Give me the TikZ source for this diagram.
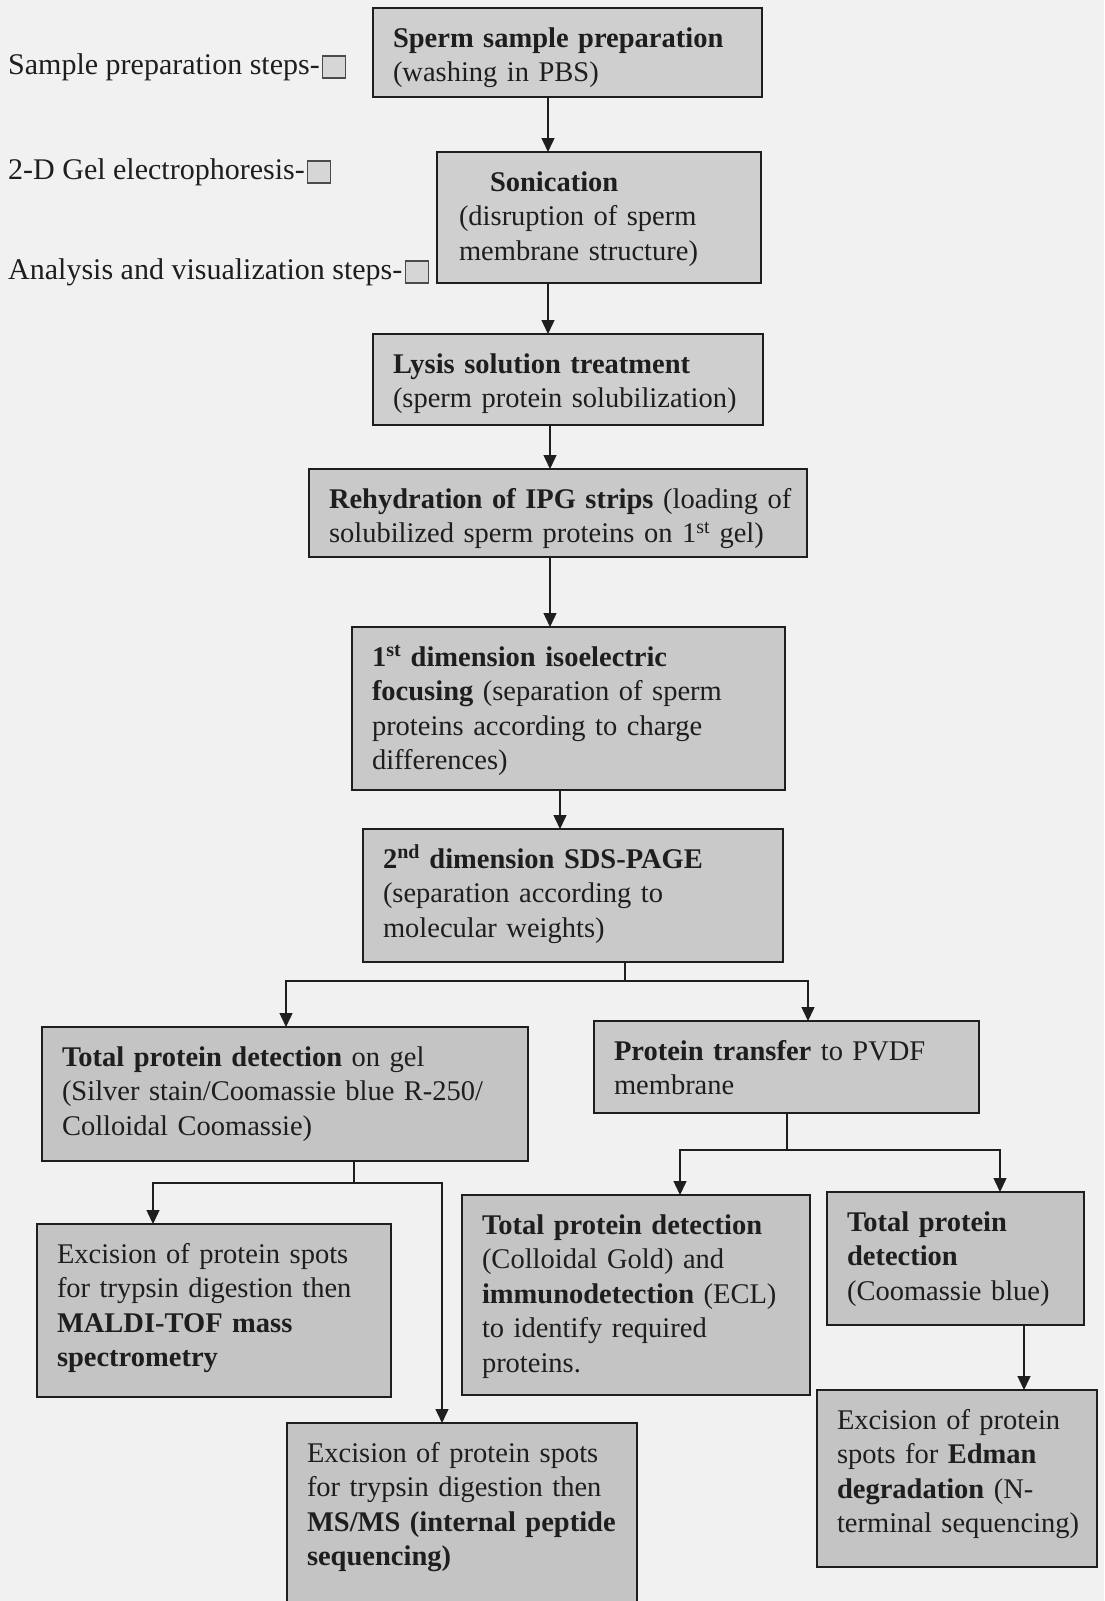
\documentclass[tikz,border=0pt]{standalone}
\usepackage{fontspec}
\setmainfont{Liberation Serif}
\usetikzlibrary{arrows.meta,positioning}
\definecolor{bg}{HTML}{F1F1F1}
\definecolor{fillA}{HTML}{CFCFCF}
\definecolor{fillB}{HTML}{C9C9C9}
\definecolor{fillC}{HTML}{C4C4C4}
\definecolor{legfill}{HTML}{D6D6D6}
\definecolor{ink}{HTML}{1E1E1E}
\newcommand\tx[1]{\begin{tabular}[t]{@{}l@{}}#1\end{tabular}}
\begin{document}
\begin{tikzpicture}[x=1pt,y=-1pt,
  every node/.style={text=ink},
  box/.style={draw=ink, line width=1.7pt, anchor=north west, inner xsep=20pt,
    inner ysep=0pt, outer sep=0pt, align=left, text height=39pt,
    font=\fontsize{28.5}{34.5}\selectfont},
  legtext/.style={anchor=west, inner sep=0pt, font=\fontsize{30}{34}\selectfont},
  legsq/.style={draw=ink!80, line width=1.2pt, fill=legfill, minimum width=23pt,
    minimum height=22pt, inner sep=0pt, anchor=west},
  conn/.style={draw=ink, line width=1.4pt, line join=miter},
  arr/.style={conn, -{Triangle[width=13pt,length=14pt]}}
]
\useasboundingbox (0,0) rectangle (1104,1601);
\clip (0,0) rectangle (1104,1601);
\fill[bg] (0,0) rectangle (1104,1601);

% legend
\node[legtext] (l1) at (8,67) {Sample preparation steps-};
\node[legsq, right=2pt of l1] (s1) {};
\node[legtext] (l2) at (8,172) {2-D Gel electrophoresis-};
\node[legsq, right=2pt of l2] (s2) {};
\node[legtext] (l3) at (8,272) {Analysis and visualization steps-};
\node[legsq, right=2pt of l3] (s3) {};

% boxes (text width = width - 40, text depth = height - 39)
\node[box, fill=fillA, text width=349pt, text depth=50pt] (b1) at (373,8)
  {\tx{\textbf{Sperm sample preparation}\\(washing in PBS)}};
\node[box, fill=fillA, inner xsep=22pt, text width=280pt, text depth=92pt] (son) at (437,152)
  {\tx{\hspace*{31pt}\textbf{Sonication}\\(disruption of sperm\\membrane structure)}};
\node[box, fill=fillA, text width=350pt, text depth=52pt] (lys) at (373,334)
  {\tx{\textbf{Lysis solution treatment}\\(sperm protein solubilization)}};
\node[box, fill=fillB, text width=458pt, text depth=49pt] (reh) at (309,469)
  {\tx{\textbf{Rehydration of IPG strips} (loading of\\solubilized sperm proteins on 1\textsuperscript{st} gel)}};
\node[box, fill=fillB, text width=393pt, text depth=124pt] (ief) at (352,627)
  {\tx{\textbf{1\textsuperscript{st} dimension isoelectric}\\\textbf{focusing} (separation of sperm\\proteins according to charge\\differences)}};
\node[box, fill=fillB, text width=380pt, text depth=94pt] (sds) at (363,829)
  {\tx{\textbf{2\textsuperscript{nd} dimension SDS-PAGE}\\(separation according to\\molecular weights)}};
\node[box, fill=fillC, text width=446pt, text depth=95pt] (tg) at (42,1027)
  {\tx{\textbf{Total protein detection} on gel\\(Silver stain/Coomassie blue R-250/\\Colloidal Coomassie)}};
\node[box, fill=fillB, text width=345pt, text depth=53pt] (pt) at (594,1021)
  {\tx{\textbf{Protein transfer} to PVDF\\membrane}};
\node[box, fill=fillC, text width=308pt, text depth=161pt] (cg) at (462,1195)
  {\tx{\textbf{Total protein detection}\\(Colloidal Gold) and\\\textbf{immunodetection} (ECL)\\to identify required\\proteins.}};
\node[box, fill=fillC, text width=217pt, text depth=94pt] (cb) at (827,1192)
  {\tx{\textbf{Total protein}\\\textbf{detection}\\(Coomassie blue)}};
\node[box, fill=fillC, text width=240pt, text depth=138pt] (ed) at (817,1390)
  {\tx{Excision of protein\\spots for \textbf{Edman}\\\textbf{degradation} (N-\\terminal sequencing)}};
\node[box, fill=fillC, text width=314pt, text depth=134pt] (ma) at (37,1224)
  {\tx{Excision of protein spots\\for trypsin digestion then\\\textbf{MALDI-TOF mass}\\\textbf{spectrometry}}};
\node[box, fill=fillC, text width=310pt, text depth=250pt] (ms) at (287,1423)
  {\tx{Excision of protein spots\\for trypsin digestion then\\\textbf{MS/MS (internal peptide}\\\textbf{sequencing)}}};

% connector coordinates
\coordinate (c1) at (548,0);
\coordinate (c2) at (550,0);
\coordinate (c3) at (560,0);
\coordinate (c4) at (1024,0);
\coordinate (j1) at (625,981);
\coordinate (j1l) at (286,981);
\coordinate (j1r) at (808,981);
\coordinate (j2) at (787,1150);
\coordinate (j2l) at (680,1150);
\coordinate (j2r) at (1000,1150);
\coordinate (j3) at (354,1183);
\coordinate (j3l) at (153,1183);
\coordinate (j3r) at (442,1183);

\draw[arr] (b1.south -| c1) -- (son.north -| c1);
\draw[arr] (son.south -| c1) -- (lys.north -| c1);
\draw[arr] (lys.south -| c2) -- (reh.north -| c2);
\draw[arr] (reh.south -| c2) -- (ief.north -| c2);
\draw[arr] (ief.south -| c3) -- (sds.north -| c3);

\draw[conn] (sds.south -| j1) -- (j1);
\draw[arr] (j1) -- (j1l) -- (tg.north -| j1l);
\draw[arr] (j1) -- (j1r) -- (pt.north -| j1r);

\draw[conn] (pt.south -| j2) -- (j2);
\draw[arr] (j2) -- (j2l) -- (cg.north -| j2l);
\draw[arr] (j2) -- (j2r) -- (cb.north -| j2r);

\draw[arr] (cb.south -| c4) -- (ed.north -| c4);

\draw[conn] (tg.south -| j3) -- (j3);
\draw[arr] (j3) -- (j3l) -- (ma.north -| j3l);
\draw[arr] (j3) -- (j3r) -- (ms.north -| j3r);
\end{tikzpicture}
\end{document}
